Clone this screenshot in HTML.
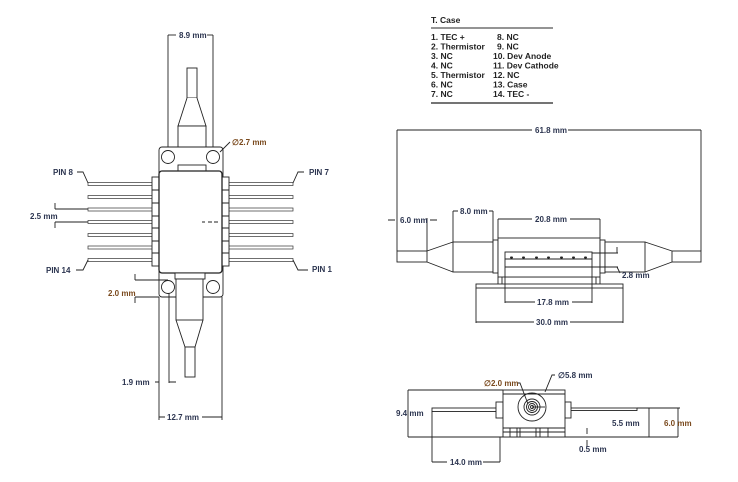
<!DOCTYPE html>
<html><head><meta charset="utf-8"><style>
html,body{margin:0;padding:0;background:#fff}
svg{display:block}
text{font-family:"Liberation Sans",sans-serif;font-weight:bold;font-size:8px;fill:#2c3550}
.o{fill:#7a4a1e}
.t{font-size:8.5px;fill:#222}
</style></head><body>
<svg width="738" height="482" viewBox="0 0 738 482" xmlns="http://www.w3.org/2000/svg">
<g fill="none" stroke="#222" stroke-width="0.9">
<line x1="168" y1="35" x2="168" y2="156"/><line x1="213" y1="35" x2="213" y2="156"/>
<line x1="168" y1="35" x2="176" y2="35"/><line x1="207" y1="35" x2="213" y2="35"/>
<rect x="187" y="68" width="10" height="30" fill="#fff"/>
<path d="M187 98 L178 126 L206 126 L197 98" fill="#fff"/>
<rect x="178" y="126" width="28" height="41" fill="#fff"/>
<rect x="159" y="147" width="64" height="150" rx="3" fill="#fff"/>
<circle cx="168" cy="157" r="6.5" fill="#fff"/><circle cx="213" cy="157" r="6.5" fill="#fff"/>
<circle cx="168" cy="287" r="6.5" fill="#fff"/><circle cx="213" cy="287" r="6.5" fill="#fff"/>
<rect x="178" y="165" width="28" height="6" fill="#fff"/>
<g stroke-width="0.7" stroke="#333">
<rect x="88" y="182.5" width="65" height="3"/><rect x="88" y="195.5" width="65" height="3"/>
<rect x="88" y="208" width="65" height="3"/><rect x="88" y="220.5" width="65" height="3"/>
<rect x="88" y="233.5" width="65" height="3"/><rect x="88" y="246" width="65" height="3"/>
<rect x="88" y="258.5" width="65" height="3"/>
<rect x="228" y="182.5" width="65" height="3"/><rect x="228" y="195.5" width="65" height="3"/>
<rect x="228" y="208" width="65" height="3"/><rect x="228" y="220.5" width="65" height="3"/>
<rect x="228" y="233.5" width="65" height="3"/><rect x="228" y="246" width="65" height="3"/>
<rect x="228" y="258.5" width="65" height="3"/>
</g>
<rect x="152" y="177" width="7" height="89" fill="#fff"/>
<rect x="222" y="177" width="7" height="89" fill="#fff"/>
<path d="M152 190H159M152 203H159M152 216H159M152 228H159M152 241H159M152 253H159M222 190H229M222 203H229M222 216H229M222 228H229M222 241H229M222 253H229"/>
<rect x="159" y="171" width="63" height="102" rx="3" fill="#fff" stroke-width="1.3"/>
<path d="M202 222H205M208 222H212M214 222H218"/>
<path d="M77 172H83L88 183M304 172H298L293 183M76 270H83L88 260M308 270H298L293 260"/>
<path d="M55 209H88M55 222H88M55 203V209M55 222V228"/>
<rect x="175" y="273" width="30" height="6" fill="#fff"/>
<rect x="176" y="279" width="27" height="41" fill="#fff"/>
<path d="M176 320 L185 347 L195 347 L203 320"/>
<rect x="185" y="347" width="10" height="30" fill="#fff"/>
<line x1="159" y1="297" x2="159" y2="420"/><line x1="222" y1="297" x2="222" y2="420"/>
<line x1="169" y1="293" x2="169" y2="383"/>
<path d="M159 417H165M202 417H222M155 382H159M169 382H176"/>
<path d="M135 280H168M135 297H159M135 274V280M135 297V303"/>
<path d="M220 152L230 142"/>

<path d="M397 130H532M568 130H701M397 130V251M701 130V251"/>
<rect x="397" y="251" width="30" height="11" fill="#fff"/>
<path d="M427 251L453 242M427 262L453 272"/>
<rect x="453" y="242" width="40" height="30" fill="#fff"/>
<rect x="493" y="240" width="5" height="33" fill="#fff"/>
<rect x="498" y="238" width="102" height="39" fill="#fff"/>
<path d="M498 277V284M502 277V284M600 277V284M596 277V284"/>
<rect x="476" y="284" width="147" height="4" fill="#fff"/>
<rect x="505" y="252" width="87" height="25" fill="#fff"/>
<path d="M505 259H592M505 267H592"/>
<g stroke-width="2" stroke-linecap="round"><path d="M511 257.5h1M523 257.5h1M536 257.5h1M548 257.5h1M561 257.5h1M573 257.5h1M585 257.5h1"/></g>
<rect x="600" y="240" width="5" height="33" fill="#fff"/>
<rect x="605" y="242" width="40" height="30" fill="#fff"/>
<path d="M645 242L672 251M645 272L672 262"/>
<rect x="672" y="251" width="29" height="11" fill="#fff"/>
<path d="M453 211V242M493 211V242M453 211H458M489 211H493"/>
<path d="M388 220H395M430 220H437M427 218V251"/>
<path d="M498 219V238M600 219V238M498 219H532M570 219H600"/>
<path d="M592 253H618M592 267H618M617 247V253M617 267L620 273"/>
<path d="M505 277V303M592 277V303M505 302H535M572 302H592"/>
<path d="M476 288V323M623 288V323M476 322H534M570 322H623"/>

<path d="M408 437H678"/>
<rect x="432" y="408" width="71" height="3.5" fill="#fff"/>
<rect x="565" y="408" width="72" height="2.5" fill="#fff"/>
<rect x="496" y="402" width="7" height="16" fill="#fff"/>
<rect x="565" y="402" width="6" height="16" fill="#fff"/>
<rect x="503" y="390" width="62" height="47" fill="#fff"/>
<path d="M503 394H565M503 428H565M503 432H565M510 428V437M517 428V437M520 428V437M536 428V437M540 428V437M548 428V437"/>
<circle cx="532" cy="407" r="14"/><circle cx="532" cy="407" r="8"/>
<circle cx="532" cy="407" r="5.5"/><circle cx="532" cy="407" r="3.5"/><circle cx="532" cy="407" r="1.5"/>
<path d="M532 407H545"/>
<path d="M517 383H520L528 404M555 375H552L545 392"/>
<path d="M408 390H503M408 390V437"/>
<path d="M432 411V462M500 437V462M432 462H447M483 462H500"/>
<path d="M649 408V437M637 408H649M678 408V437M645 408H680"/>
<path d="M587 428V434M587 440V446"/>
</g>
<text x="179" y="38">8.9 mm</text>
<text x="232" y="145" class="o">∅2.7 mm</text>
<text x="53" y="175">PIN 8</text>
<text x="309" y="175">PIN 7</text>
<text x="46" y="273">PIN 14</text>
<text x="312" y="272">PIN 1</text>
<text x="30" y="219">2.5 mm</text>
<text x="108" y="296" class="o">2.0 mm</text>
<text x="122" y="385">1.9 mm</text>
<text x="167" y="420">12.7 mm</text>
<text x="535" y="133">61.8 mm</text>
<text x="400" y="223">6.0 mm</text>
<text x="460" y="214">8.0 mm</text>
<text x="535" y="222">20.8 mm</text>
<text x="622" y="278">2.8 mm</text>
<text x="537" y="305">17.8 mm</text>
<text x="536" y="325">30.0 mm</text>
<text x="484" y="386" class="o">∅2.0 mm</text>
<text x="558" y="378">∅5.8 mm</text>
<text x="396" y="416">9.4 mm</text>
<text x="450" y="465">14.0 mm</text>
<text x="612" y="426">5.5 mm</text>
<text x="664" y="426" class="o">6.0 mm</text>
<text x="579" y="452">0.5 mm</text>
<text x="431" y="23" class="t">T. Case</text>
<line x1="431" y1="28" x2="553" y2="28" stroke="#555" stroke-width="1.2"/>
<text x="431" y="40" class="t">1. TEC +</text><text x="431" y="49.5" class="t">2. Thermistor</text>
<text x="431" y="59" class="t">3. NC</text><text x="431" y="68.5" class="t">4. NC</text>
<text x="431" y="78" class="t">5. Thermistor</text><text x="431" y="87.5" class="t">6. NC</text>
<text x="431" y="97" class="t">7. NC</text>
<text x="497" y="40" class="t">8. NC</text><text x="497" y="49.5" class="t">9. NC</text>
<text x="493" y="59" class="t">10. Dev Anode</text><text x="493" y="68.5" class="t">11. Dev Cathode</text>
<text x="493" y="78" class="t">12. NC</text><text x="493" y="87.5" class="t">13. Case</text>
<text x="493" y="97" class="t">14. TEC -</text>
<line x1="431" y1="103" x2="553" y2="103" stroke="#222" stroke-width="1.2"/>
</svg>
</body></html>
